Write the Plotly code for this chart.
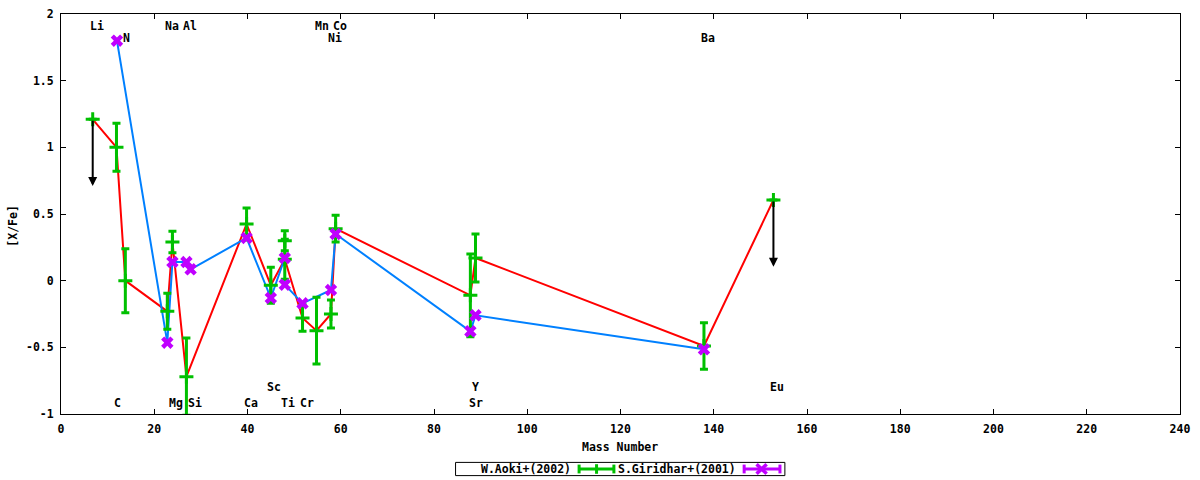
import plotly.graph_objects as go

# W.Aoki+(2002) ----------------------------------------------------------------
aoki_mass = [6.8, 11.9, 13.8, 22.8, 23.9, 26.9, 39.8, 45.0, 48.0, 48.0, 51.8, 54.8, 57.9, 58.9, 87.8, 88.9, 137.9, 152.8]
aoki_xfe = [1.21, 1.00, 0.00, -0.23, 0.29, -0.72, 0.425, -0.035, 0.16, 0.30, -0.28, -0.375, -0.25, 0.39, -0.11, 0.17, -0.49, 0.605]
aoki_err = [0.0, 0.18, 0.24, 0.135, 0.08, 0.29, 0.12, 0.135, 0.15, 0.075, 0.10, 0.25, 0.105, 0.10, 0.31, 0.18, 0.175, 0.0]
aoki_upper = [True, False, False, False, False, False, False, False, False, False, False, False, False, False, False, False, False, True]
aoki_on_line = [True, True, True, True, True, True, True, True, True, False, True, True, True, True, True, True, True, True]

# S.Giridhar+(2001) ------------------------------------------------------------
gir_mass = [12.0, 22.8, 23.9, 26.9, 27.8, 39.8, 45.0, 48.0, 48.0, 51.8, 57.9, 58.9, 87.8, 88.9, 137.9]
gir_xfe = [1.80, -0.465, 0.14, 0.14, 0.085, 0.32, -0.13, 0.17, -0.03, -0.17, -0.07, 0.35, -0.38, -0.26, -0.515]

# étiquettes des éléments
elem_names = ['Li', 'Na', 'Al', 'Mn', 'Co', 'N', 'Ni', 'Ba', 'Sc', 'Y', 'Eu', 'C', 'Mg', 'Si', 'Ca', 'Ti', 'Cr', 'Sr']
elem_x = [7.7, 23.9, 27.6, 55.9, 59.9, 14.0, 58.8, 138.7, 45.7, 89.0, 153.6, 12.1, 24.6, 28.8, 40.8, 48.7, 52.8, 88.9]
elem_y = [1.91, 1.91, 1.91, 1.91, 1.91, 1.82, 1.82, 1.82, -0.80, -0.80, -0.80, -0.92, -0.92, -0.92, -0.92, -0.92, -0.92, -0.92]

x_ticks = [0, 20, 40, 60, 80, 100, 120, 140, 160, 180, 200, 220, 240]
y_ticks = [-1, -0.5, 0, 0.5, 1, 1.5, 2]
y_tick_text = ['-1', '-0.5', '0', '0.5', '1', '1.5', '2']
limit_len = 0.5

RED = '#ff0000'
GREEN = '#00c000'
BLUE = '#0080ff'
PURPLE = '#c000ff'
FONT = dict(family='DejaVu Sans Mono', size=11.5, color='black', weight='bold')

fig = go.Figure()

# lignes
lx = [m for m, k in zip(aoki_mass, aoki_on_line) if k]
ly = [v for v, k in zip(aoki_xfe, aoki_on_line) if k]
fig.add_trace(go.Scatter(x=lx, y=ly, mode='lines', line=dict(color=RED, width=2), showlegend=False))
fig.add_trace(go.Scatter(x=gir_mass, y=gir_xfe, mode='lines', line=dict(color=BLUE, width=2), showlegend=False))

# barres d'erreur
fig.add_trace(go.Scatter(
    x=aoki_mass, y=aoki_xfe, mode='markers', name='W.Aoki+(2002)',
    marker=dict(symbol='cross-thin', size=10, line=dict(color=GREEN, width=3), color=GREEN),
    error_y=dict(type='data', array=aoki_err, color=GREEN, thickness=3, width=4),
    showlegend=False))
fig.add_trace(go.Scatter(
    x=gir_mass, y=gir_xfe, mode='markers', name='S.Giridhar+(2001)',
    marker=dict(symbol='x', size=11, color=PURPLE, line=dict(width=0)),
    showlegend=False))

# limites supérieures
for m, v, up in zip(aoki_mass, aoki_xfe, aoki_upper):
    if up:
        fig.add_annotation(x=m, y=v - limit_len, ax=m, ay=v, xref='x', yref='y', axref='x', ayref='y',
                           text='', showarrow=True, arrowhead=2, arrowsize=0.9, arrowwidth=2, arrowcolor='black')

# noms des éléments
for n, x, y in zip(elem_names, elem_x, elem_y):
    fig.add_annotation(x=x, y=y, text=n, showarrow=False, font=FONT, xref='x', yref='y',
                       xanchor='center', yanchor='middle')

# titres d'axes
fig.add_annotation(x=0.4994, y=-0.0825, xref='paper', yref='paper', text='Mass Number',
                   showarrow=False, font=FONT, xanchor='center', yanchor='middle')
fig.add_annotation(x=-0.0432, y=0.47, xref='paper', yref='paper', text='[X/Fe]', textangle=-90,
                   showarrow=False, font=FONT, xanchor='center', yanchor='middle')

# légende façon gnuplot (texte puis échantillon)
ly0 = -0.1375
fig.add_shape(type='rect', xref='paper', yref='paper', x0=0.3526, x1=0.6469, y0=-0.154, y1=-0.121,
              line=dict(color='black', width=1))
fig.add_annotation(x=0.4577, y=ly0, xref='paper', yref='paper', text='W.Aoki+(2002)', xanchor='right',
                   yanchor='middle', showarrow=False, font=FONT)
fig.add_annotation(x=0.6046, y=ly0, xref='paper', yref='paper', text='S.Giridhar+(2001)', xanchor='right',
                   yanchor='middle', showarrow=False, font=FONT)
for (a, b, c, col) in [(0.4630, 0.4941, 0.4786, GREEN), (0.6105, 0.6425, 0.6261, PURPLE)]:
    fig.add_shape(type='line', xref='paper', yref='paper', x0=a, x1=b, y0=ly0, y1=ly0, line=dict(color=col, width=3))
    for e in (a, b):
        fig.add_shape(type='line', xref='paper', yref='paper', x0=e, x1=e, y0=ly0 - 0.011, y1=ly0 + 0.011,
                      line=dict(color=col, width=3))
    if col == GREEN:
        fig.add_shape(type='line', xref='paper', yref='paper', x0=c, x1=c, y0=ly0 - 0.012, y1=ly0 + 0.012,
                      line=dict(color=col, width=3))
    else:
        for s in (1, -1):
            fig.add_shape(type='line', xref='paper', yref='paper', x0=c - 0.0045, x1=c + 0.0045,
                          y0=ly0 - s * 0.012, y1=ly0 + s * 0.012, line=dict(color=col, width=3.5))

fig.update_layout(
    width=1200,
    height=480,
    margin=dict(l=61, r=20, t=14, b=66),
    plot_bgcolor='white',
    paper_bgcolor='white',
    showlegend=False,
    xaxis=dict(range=[0, 240], tickvals=x_ticks, ticks='inside', ticklen=5, tickcolor='black',
               showline=True, linecolor='black', linewidth=1, mirror='ticks', showgrid=False,
               zeroline=False, tickfont=FONT, ticklabelstandoff=4, automargin=False),
    yaxis=dict(range=[-1, 2], tickvals=y_ticks, ticktext=y_tick_text, ticks='inside', ticklen=5,
               tickcolor='black', showline=True, linecolor='black', linewidth=1, mirror='ticks',
               showgrid=False, zeroline=False, tickfont=FONT, ticklabelstandoff=4, automargin=False),
)

fig.write_html("out.html", config={'displayModeBar': False},
               post_script="document.body.style.margin='0';")
